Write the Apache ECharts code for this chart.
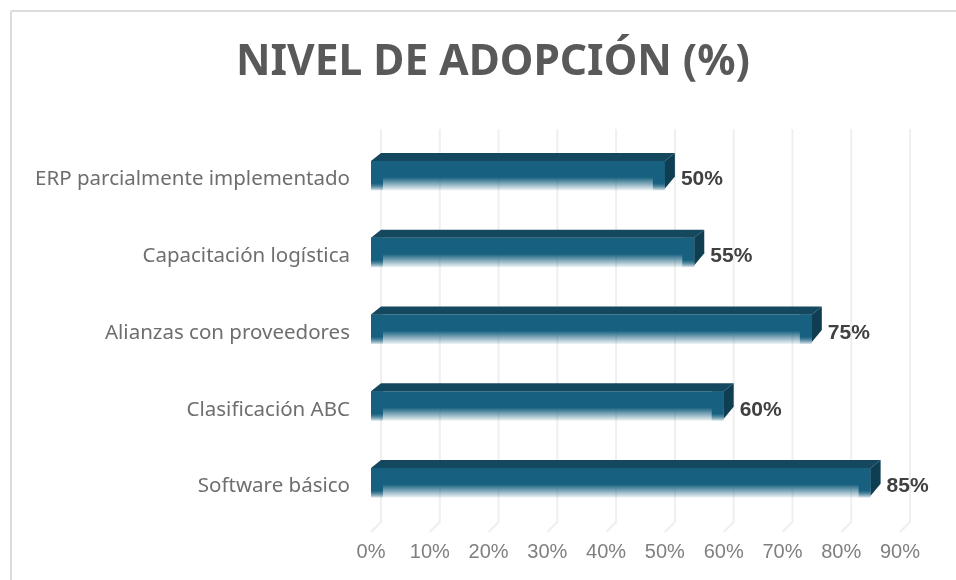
<!DOCTYPE html>
<html>
<head>
<meta charset="utf-8">
<style>html,body{margin:0;padding:0;background:#fff}#c{width:956px;height:580px}</style>
<script src="https://cdn.jsdelivr.net/npm/echarts@6/dist/echarts.min.js"></script>
</head>
<body>
<div id="c"></div>
<script>
const titleText = 'NIVEL DE ADOPCIÓN (%)';
const categories = ['ERP parcialmente implementado','Capacitación logística','Alianzas con proveedores','Clasificación ABC','Software básico'];
const adoption = [50,55,75,60,85];
const ticks = [0,10,20,30,40,50,60,70,80,90];

const DX = 10, DY = 8, CAP = 12;
const chart = echarts.init(document.getElementById('c'), null, {renderer:'canvas'});

function fade(stop1){
  return {type:'linear',x:0,y:0,x2:0,y2:1,colorStops:[
    {offset:0,color:'#17607f'},{offset:stop1,color:'#17607f'},{offset:1,color:'rgba(23,96,127,0.06)'}]};
}
function renderWall(params, api){
  const cs = params.coordSys;
  const p = api.coord([api.value(0), 0]);
  const bottom = cs.y + cs.height, top = cs.y - DY;
  return {type:'polyline',silent:true,shape:{points:[[p[0]+DX,top],[p[0]+DX,bottom+1],[p[0],bottom+11]]},
    style:{fill:null,stroke:'#efefef',lineWidth:2}};
}
function renderBar(params, api){
  const end = api.coord([api.value(0), api.value(1)]);
  const start = api.coord([0, api.value(1)]);
  const h = api.size([0,1])[1] * 0.385;
  const x0 = start[0], x1 = end[0], yT = end[1] - 14.5, yB = yT + h;
  return {type:'group',children:[
    {type:'rect',shape:{x:x0,y:yT,width:x1-x0,height:h},style:{fill:fade(0.55)}},
    {type:'rect',shape:{x:x0,y:yT,width:CAP,height:h},style:{fill:fade(0.75)}},
    {type:'rect',shape:{x:x1-CAP,y:yT,width:CAP,height:h},style:{fill:fade(0.75)}},
    {type:'polygon',shape:{points:[[x0,yT],[x0+DX,yT-DY],[x1+DX,yT-DY],[x1,yT]]},style:{fill:'#14485f'}},
    {type:'polygon',shape:{points:[[x1,yT],[x1+DX,yT-DY],[x1+DX,yB-DY-6],[x1,yB-2]]},style:{fill:'#0f3d52'}},
    {type:'text',style:{text:api.value(0)+'%',x:x1+16,y:end[1]+4,align:'left',verticalAlign:'middle',
      font:'bold 21px "Liberation Sans"',fill:'#404040'}}
  ]};
}

chart.setOption({
  animation:false,
  backgroundColor:'#fff',
  title:{text:titleText,left:488,top:36,textAlign:'center',
    textStyle:{fontFamily:'Noto Sans',fontWeight:'bold',fontSize:42.5,color:'#595959'}},
  grid:{left:371,top:137,width:529,height:384,containLabel:false},
  xAxis:{type:'value',min:0,max:90,interval:10,
    axisLine:{show:false},axisTick:{show:false},splitLine:{show:false},
    axisLabel:{formatter:'{value}%',margin:21,fontFamily:'Liberation Sans',fontSize:20,color:'#7f7f7f'}},
  yAxis:{type:'category',inverse:true,data:categories,
    axisLine:{show:false},axisTick:{show:false},splitLine:{show:false},
    axisLabel:{margin:21,fontFamily:'Noto Sans',fontSize:20.5,color:'#6e6e6e',verticalAlign:'top',lineHeight:8}},
  graphic:[
    {type:'line',silent:true,shape:{x1:11,y1:11,x2:956,y2:11},style:{stroke:'#dcdcdc',lineWidth:2}},
    {type:'line',silent:true,shape:{x1:11,y1:11,x2:11,y2:580},style:{stroke:'#dcdcdc',lineWidth:2}}
  ],
  series:[
    {type:'custom',name:'grid',silent:true,clip:false,z:1,coordinateSystem:'cartesian2d',
      renderItem:renderWall,encode:{x:0},data:ticks.map(t=>[t,0])},
    {type:'custom',name:'Nivel de adopción',clip:false,z:2,coordinateSystem:'cartesian2d',
      renderItem:renderBar,encode:{x:0,y:1},data:adoption.map((v,i)=>[v,i])}
  ]
});
</script>
</body>
</html>
